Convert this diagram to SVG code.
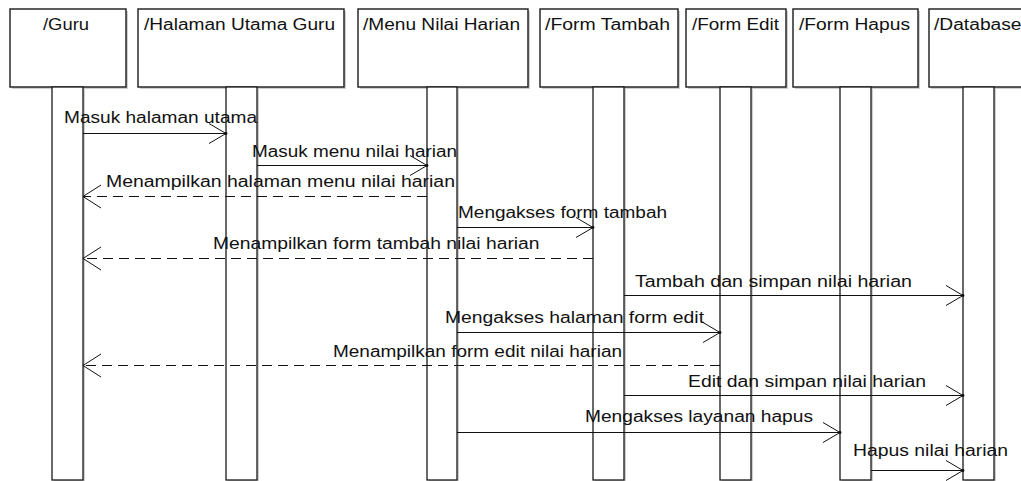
<svg xmlns="http://www.w3.org/2000/svg" width="1021" height="481" viewBox="0 0 1021 481">
<style>
.box{fill:#fff;stroke:#1a1a1a;stroke-width:1.4}
.bar{fill:#fff;stroke:#1a1a1a;stroke-width:1.3}
.sh{fill:#cfcfcf}
.t{font-family:"Liberation Sans",Arial,sans-serif;font-size:16px;fill:#111}
.msg{stroke:#111;stroke-width:1.2;fill:none;marker-end:url(#arr)}
.ret{stroke:#111;stroke-width:1.2;fill:none;stroke-dasharray:10 6;marker-end:url(#arrR)}
</style>
<defs>
<marker id="arr" markerUnits="userSpaceOnUse" markerWidth="22" markerHeight="24" refX="18" refY="11" orient="auto" overflow="visible">
<path d="M1,1 L18,11 L1,21" fill="none" stroke="#111" stroke-width="1"/>
<circle cx="18" cy="11" r="1.4" fill="#111"/>
</marker>
<marker id="arrR" markerUnits="userSpaceOnUse" markerWidth="22" markerHeight="26" refX="18" refY="12" orient="auto" overflow="visible">
<path d="M0,0.5 L18,12 L0,23.5" fill="none" stroke="#111" stroke-width="1"/>
</marker>
</defs>
<rect width="1021" height="481" fill="#fff"/>

<g id="guru">
<rect class="sh" x="12" y="11" width="116" height="78"/>
<rect class="box" x="10" y="9" width="116" height="78"/>
<text class="t" x="43" y="30" textLength="46" lengthAdjust="spacingAndGlyphs">/Guru</text>
<rect class="sh" x="54" y="89" width="31" height="393"/>
<rect class="bar" x="52" y="87" width="31" height="393"/>
</g>
<g id="halaman-utama-guru">
<rect class="sh" x="140" y="11" width="206" height="78"/>
<rect class="box" x="138" y="9" width="206" height="78"/>
<text class="t" x="144" y="30" textLength="191" lengthAdjust="spacingAndGlyphs">/Halaman Utama Guru</text>
<rect class="sh" x="228" y="89" width="31" height="393"/>
<rect class="bar" x="226" y="87" width="31" height="393"/>
</g>
<g id="menu-nilai-harian">
<rect class="sh" x="360" y="11" width="170" height="78"/>
<rect class="box" x="358" y="9" width="170" height="78"/>
<text class="t" x="363" y="30" textLength="157" lengthAdjust="spacingAndGlyphs">/Menu Nilai Harian</text>
<rect class="sh" x="429" y="89" width="30" height="393"/>
<rect class="bar" x="427" y="87" width="30" height="393"/>
</g>
<g id="form-tambah">
<rect class="sh" x="542" y="11" width="138" height="78"/>
<rect class="box" x="540" y="9" width="138" height="78"/>
<text class="t" x="545" y="30" textLength="125" lengthAdjust="spacingAndGlyphs">/Form Tambah</text>
<rect class="sh" x="595" y="89" width="31" height="393"/>
<rect class="bar" x="593" y="87" width="31" height="393"/>
</g>
<g id="form-edit">
<rect class="sh" x="688" y="11" width="100" height="78"/>
<rect class="box" x="686" y="9" width="100" height="78"/>
<text class="t" x="692" y="30" textLength="87" lengthAdjust="spacingAndGlyphs">/Form Edit</text>
<rect class="sh" x="722" y="89" width="31" height="393"/>
<rect class="bar" x="720" y="87" width="31" height="393"/>
</g>
<g id="form-hapus">
<rect class="sh" x="795" y="11" width="125" height="78"/>
<rect class="box" x="793" y="9" width="125" height="78"/>
<text class="t" x="799" y="30" textLength="111" lengthAdjust="spacingAndGlyphs">/Form Hapus</text>
<rect class="sh" x="842" y="89" width="31" height="393"/>
<rect class="bar" x="840" y="87" width="31" height="393"/>
</g>
<g id="database">
<rect class="sh" x="931" y="11" width="100" height="78"/>
<rect class="box" x="929" y="9" width="100" height="78"/>
<text class="t" x="934" y="30" textLength="87.5" lengthAdjust="spacingAndGlyphs">/Database</text>
<rect class="sh" x="965" y="89" width="31" height="393"/>
<rect class="bar" x="963" y="87" width="31" height="393"/>
</g>

<g id="connectors">
<line class="msg" x1="83" y1="133.5" x2="226" y2="133.5"/>
<line class="msg" x1="257" y1="165.5" x2="427" y2="165.5"/>
<line class="ret" x1="427" y1="196.5" x2="83" y2="196.5"/>
<line class="msg" x1="457" y1="227.5" x2="593" y2="227.5"/>
<line class="ret" x1="593" y1="258.5" x2="83" y2="258.5"/>
<line class="msg" x1="624" y1="295.5" x2="963" y2="295.5"/>
<line class="msg" x1="457" y1="332.5" x2="720" y2="332.5"/>
<line class="ret" x1="720" y1="365.5" x2="83" y2="365.5"/>
<line class="msg" x1="624" y1="395.5" x2="963" y2="395.5"/>
<line class="msg" x1="457" y1="432.5" x2="840" y2="432.5"/>
<line class="msg" x1="871" y1="470.5" x2="963" y2="470.5"/>

<text class="t" x="64" y="123" textLength="193" lengthAdjust="spacingAndGlyphs">Masuk halaman utama</text>
<text class="t" x="252" y="156.5" textLength="205" lengthAdjust="spacingAndGlyphs">Masuk menu nilai harian</text>
<text class="t" x="106" y="187" textLength="349" lengthAdjust="spacingAndGlyphs">Menampilkan halaman menu nilai harian</text>
<text class="t" x="458" y="218" textLength="209" lengthAdjust="spacingAndGlyphs">Mengakses form tambah</text>
<text class="t" x="213" y="249" textLength="326.5" lengthAdjust="spacingAndGlyphs">Menampilkan form tambah nilai harian</text>
<text class="t" x="635" y="287" textLength="277" lengthAdjust="spacingAndGlyphs">Tambah dan simpan nilai harian</text>
<text class="t" x="445" y="323" textLength="259" lengthAdjust="spacingAndGlyphs">Mengakses halaman form edit</text>
<text class="t" x="333" y="357" textLength="289" lengthAdjust="spacingAndGlyphs">Menampilkan form edit nilai harian</text>
<text class="t" x="688" y="386.5" textLength="238" lengthAdjust="spacingAndGlyphs">Edit dan simpan nilai harian</text>
<text class="t" x="585" y="422" textLength="228" lengthAdjust="spacingAndGlyphs">Mengakses layanan hapus</text>
<text class="t" x="853" y="455.5" textLength="155" lengthAdjust="spacingAndGlyphs">Hapus nilai harian</text>
</g>
</svg>
